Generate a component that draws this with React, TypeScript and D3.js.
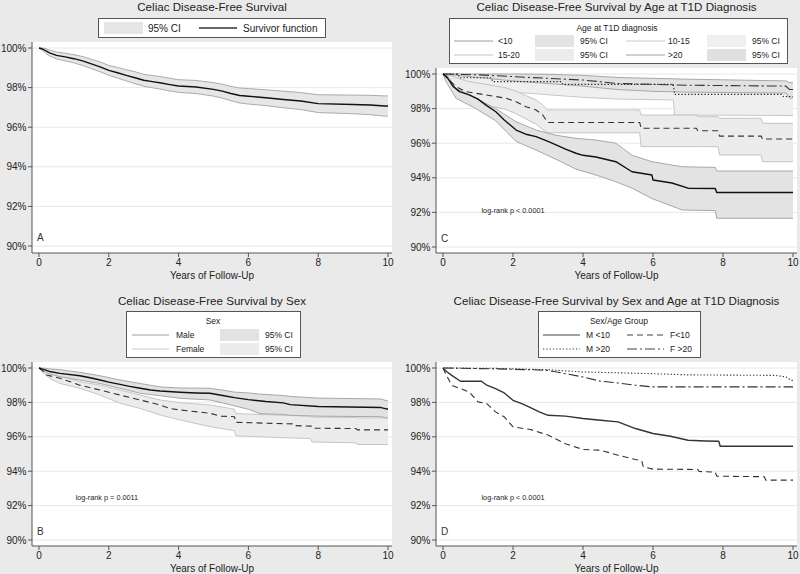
import React from "react";
import * as d3 from "d3";

type Pt = [number, number];
type Band = [number, number, number]; // [year, lower, upper]

const FONT = "'Liberation Sans', Arial, Helvetica, sans-serif";

const xTicks = [0, 2, 4, 6, 8, 10];
const yTicks = [90, 92, 94, 96, 98, 100];

// ---- A: overall ----
const survAll: Pt[] = [
  [0, 100], [0.1, 99.95], [0.2, 99.85], [0.3, 99.75], [0.5, 99.63], [0.75, 99.55], [1, 99.46],
  [1.25, 99.35], [1.5, 99.2], [1.75, 99.05], [2, 98.87], [2.25, 98.75], [2.5, 98.62], [2.75, 98.5],
  [3, 98.37], [3.25, 98.3], [3.5, 98.23], [3.75, 98.15], [4, 98.08], [4.5, 98.03], [5, 97.91],
  [5.25, 97.82], [5.5, 97.7], [5.75, 97.6], [6, 97.56], [6.5, 97.49], [7, 97.4], [7.5, 97.32],
  [8, 97.19], [9, 97.15], [9.5, 97.12], [9.9, 97.07], [10, 97.07],
];
const ciAll: Band[] = [
  [0, 100, 100], [0.1, 99.88, 100], [0.2, 99.72, 99.97], [0.3, 99.6, 99.9], [0.5, 99.45, 99.8],
  [0.75, 99.35, 99.74], [1, 99.25, 99.66], [1.25, 99.12, 99.57], [1.5, 98.96, 99.43], [1.75, 98.8, 99.3],
  [2, 98.62, 99.12], [2.25, 98.48, 99.02], [2.5, 98.34, 98.9], [2.75, 98.2, 98.8], [3, 98.07, 98.67],
  [3.25, 97.99, 98.61], [3.5, 97.92, 98.55], [3.75, 97.83, 98.47], [4, 97.76, 98.4], [4.5, 97.7, 98.36],
  [5, 97.57, 98.25], [5.25, 97.47, 98.17], [5.5, 97.34, 98.06], [5.75, 97.22, 97.98], [6, 97.17, 97.95],
  [6.5, 97.09, 97.89], [7, 96.98, 97.82], [7.5, 96.89, 97.75], [8, 96.74, 97.64], [9, 96.68, 97.62],
  [9.5, 96.63, 97.61], [9.9, 96.56, 97.58], [10, 96.56, 97.58],
];

// ---- B: by sex ----
const survMale: Pt[] = [
  [0, 100], [0.1, 99.93], [0.3, 99.8], [0.6, 99.69], [1.17, 99.55], [1.5, 99.42], [1.75, 99.3],
  [2, 99.18], [2.32, 99.05], [2.6, 98.93], [2.9, 98.82], [3.2, 98.72], [3.47, 98.66], [4.04, 98.59],
  [4.5, 98.55], [4.9, 98.53], [5.3, 98.39], [5.6, 98.28], [6, 98.16], [6.5, 98.05], [7, 97.97],
  [7.2, 97.87], [8, 97.76], [9.8, 97.7], [9.95, 97.62], [10, 97.62],
];
const ciMale: Band[] = [
  [0, 100, 100], [0.1, 99.85, 100], [0.3, 99.65, 99.95], [0.6, 99.5, 99.9], [1.17, 99.3, 99.75],
  [1.75, 99.1, 99.55], [2.32, 98.82, 99.3], [2.9, 98.53, 99.1], [3.47, 98.39, 98.9], [4.04, 98.24, 98.84],
  [4.9, 98.14, 98.82], [5.3, 97.95, 98.7], [5.6, 97.8, 98.6], [6, 97.6, 98.55], [6.33, 97.35, 98.48],
  [7, 97.3, 98.4], [7.2, 97.25, 98.35], [8, 97.2, 98.25], [9.8, 97.17, 98.2], [9.95, 97.1, 98.1],
  [10, 97.1, 98.1],
];
const survFemale: Pt[] = [
  [0, 100], [0.1, 99.85], [0.22, 99.59], [0.6, 99.4], [0.9, 99.2], [1.17, 99.0], [1.75, 98.72],
  [2.32, 98.43], [2.9, 98.14], [3.47, 97.85], [3.75, 97.65], [4.04, 97.56], [4.9, 97.37], [5.2, 97.2],
  [5.6, 97.17], [5.64, 96.84], [7.26, 96.75], [7.3, 96.65], [7.83, 96.62], [7.87, 96.5],
  [9.08, 96.48], [9.12, 96.4], [10, 96.4],
];
const ciFemale: Band[] = [
  [0, 100, 100], [0.1, 99.75, 99.95], [0.3, 99.4, 99.75], [0.6, 99.1, 99.55], [1.17, 98.82, 99.2],
  [1.75, 98.43, 99.01], [2.32, 97.95, 98.72], [2.9, 97.65, 98.43], [3.47, 97.27, 98.14], [4.04, 96.98, 97.98],
  [4.9, 96.59, 97.85], [5.47, 96.4, 97.65], [5.6, 96.35, 97.6], [5.64, 96.05, 97.35], [7, 95.95, 97.25],
  [7.78, 95.9, 97.2], [7.82, 95.7, 97.15], [9.08, 95.65, 97.12], [9.12, 95.55, 97.1], [10, 95.55, 97.1],
];

// ---- C: by age at T1D diagnosis ----
const survUnder10: Pt[] = [
  [0, 100], [0.1, 99.85], [0.2, 99.56], [0.28, 99.3], [0.47, 98.98], [0.75, 98.79], [1, 98.55],
  [1.23, 98.2], [1.51, 97.82], [1.75, 97.34], [2.09, 96.76], [2.4, 96.5], [2.66, 96.38], [3, 96.1],
  [3.23, 95.9], [3.5, 95.66], [3.8, 95.42], [4, 95.3], [4.37, 95.2], [4.94, 94.93], [5.4, 94.35],
  [5.97, 94.16], [6.0, 93.87], [6.54, 93.7], [7.0, 93.4], [7.78, 93.38], [7.82, 93.15], [10, 93.15],
];
const ciUnder10: Band[] = [
  [0, 100, 100], [0.09, 99.55, 100], [0.37, 98.6, 99.17], [0.94, 98.0, 98.6], [1.5, 97.3, 98.0],
  [2.09, 96.1, 97.24], [2.66, 95.6, 96.76], [3.2, 95.1, 96.47], [3.8, 94.5, 96.28], [4.37, 94.16, 96.18],
  [4.94, 93.77, 96.0], [5.4, 93.4, 95.3], [5.97, 92.8, 94.93], [6.83, 92.14, 94.64], [7.78, 92.1, 94.6],
  [7.82, 91.66, 94.39], [10, 91.66, 94.39],
];
const surv10to15: Pt[] = [
  [0, 100], [0.43, 100], [0.47, 99.78], [1.38, 99.78], [1.42, 99.56], [3.38, 99.56], [3.42, 99.4],
  [6.58, 99.4], [6.62, 98.82], [9.68, 98.82], [9.72, 98.7], [10, 98.7],
];
const ci10to15: Band[] = [
  [0, 100, 100], [0.45, 99.4, 100], [1.4, 99.1, 99.95], [2, 98.95, 99.95], [3, 98.8, 99.9],
  [4, 98.65, 99.8], [5, 98.55, 99.75], [6.58, 98.5, 99.7], [6.62, 97.63, 99.6], [10, 97.6, 99.5],
];
const surv15to20: Pt[] = [
  [0, 100], [0.23, 99.55], [0.37, 99.27], [0.66, 98.98], [1.23, 98.79], [1.8, 98.6], [2.09, 98.4],
  [2.37, 98.11], [2.66, 97.92], [2.85, 97.63], [2.99, 97.2], [5.62, 97.2], [5.66, 96.86], [7.24, 96.86],
  [7.28, 96.72], [7.86, 96.72], [7.9, 96.41], [9.09, 96.41], [9.13, 96.24], [10, 96.24],
];
const ci15to20: Band[] = [
  [0, 100, 100], [0.23, 99.2, 99.9], [0.37, 98.85, 99.8], [0.66, 98.5, 99.6], [1.23, 98.2, 99.4],
  [1.8, 97.95, 99.2], [2.09, 97.7, 99.0], [2.37, 97.4, 98.75], [2.66, 97.1, 98.5], [2.85, 96.8, 98.2],
  [2.99, 96.6, 97.92], [5.62, 96.6, 97.92], [5.66, 95.8, 97.63], [7.24, 95.8, 97.63], [7.28, 95.8, 97.53],
  [7.86, 95.8, 97.53], [7.9, 95.32, 97.44], [9.09, 95.32, 97.44], [9.13, 94.93, 97.15], [10, 94.93, 97.15],
];
const survOver20: Pt[] = [
  [0, 100], [1, 99.95], [2, 99.85], [3, 99.75], [4, 99.65], [5, 99.45], [6, 99.4], [7, 99.35],
  [9.8, 99.3], [9.9, 99.1], [10, 99.1],
];
const ciOver20: Band[] = [
  [0, 100, 100], [1, 99.8, 100], [2, 99.6, 100], [3, 99.45, 99.98], [4, 99.3, 99.92], [5, 99.1, 99.8],
  [6, 99.0, 99.75], [7, 98.95, 99.7], [9.8, 98.9, 99.6], [9.9, 98.6, 99.5], [10, 98.6, 99.5],
];

// ---- D: by sex and age group ----
const survMUnder10: Pt[] = [
  [0, 100], [0.1, 99.8], [0.25, 99.57], [0.5, 99.23], [1.1, 99.23], [1.25, 99.0], [1.5, 98.8],
  [1.75, 98.55], [2, 98.12], [2.25, 97.93], [2.5, 97.7], [2.75, 97.45], [3, 97.25], [3.5, 97.2],
  [4, 97.06], [4.5, 96.96], [5, 96.87], [5.5, 96.48], [6, 96.19], [6.5, 96.03], [7, 95.8], [7.5, 95.76],
  [7.88, 95.74], [7.92, 95.45], [10, 95.45],
];
const survFUnder10: Pt[] = [
  [0, 100], [0.1, 99.57], [0.25, 98.99], [0.5, 98.8], [0.75, 98.6], [1, 98.03], [1.25, 97.93],
  [1.5, 97.45], [1.75, 97.16], [2, 96.58], [2.5, 96.42], [3, 96.1], [3.5, 95.6], [4, 95.26],
  [4.5, 95.22], [5, 94.93], [5.5, 94.68], [5.68, 94.6], [5.72, 94.26], [6, 94.12], [7.28, 94.1],
  [7.32, 93.98], [7.78, 93.95], [7.82, 93.71], [9.18, 93.68], [9.22, 93.48], [10, 93.48],
];
const survMOver20: Pt[] = [
  [0, 100], [1.5, 99.98], [2, 99.95], [3, 99.9], [4, 99.77], [6, 99.67], [7, 99.6], [9.5, 99.57],
  [9.8, 99.48], [9.95, 99.28], [10, 99.28],
];
const survFOver20: Pt[] = [
  [0, 100], [1.5, 99.95], [2.5, 99.9], [3, 99.86], [3.5, 99.67], [4, 99.48], [4.5, 99.23],
  [5, 99.13], [5.5, 99.0], [6, 98.9], [10, 98.9],
];

type Frame = {
  left: number; right: number; top: number; bottom: number;
  x0: number; x1: number; yTop: number; yBot: number;
};

const frameA: Frame = { left: 32, right: 392, top: 42, bottom: 253, x0: 39, x1: 388, yTop: 48, yBot: 246 };
const frameB: Frame = { left: 32, right: 392, top: 362, bottom: 546, x0: 39, x1: 388, yTop: 368, yBot: 540 };
const frameC: Frame = { left: 436, right: 797, top: 68, bottom: 253, x0: 443, x1: 793, yTop: 74, yBot: 247 };
const frameD: Frame = { left: 436, right: 797, top: 362, bottom: 546, x0: 443, x1: 793, yTop: 368, yBot: 540 };

const DASH = "6 4";
const DOT = "1.3 2";
const DASHDOT = "10 3 2 3";

type BandSpec = { data: Band[]; fill: string; edge: string };
type CurveSpec = { data: Pt[]; stroke: string; width: number; dash?: string };

function Panel(props: {
  frame: Frame;
  title: string;
  letter: string;
  note?: { text: string; at: Pt };
  bands: BandSpec[];
  curves: CurveSpec[];
  titleY: number;
  children?: React.ReactNode;
}) {
  const { frame: f } = props;
  const x = d3.scaleLinear().domain([0, 10]).range([f.x0, f.x1]);
  const y = d3.scaleLinear().domain([90, 100]).range([f.yBot, f.yTop]);
  const line = d3.line<Pt>().x((d) => x(d[0])).y((d) => y(d[1]));
  const area = d3
    .area<Band>()
    .x((d) => x(d[0]))
    .y0((d) => y(d[1]))
    .y1((d) => y(d[2]));
  const lo = d3.line<Band>().x((d) => x(d[0])).y((d) => y(d[1]));
  const hi = d3.line<Band>().x((d) => x(d[0])).y((d) => y(d[2]));
  const cx = (f.left + f.right) / 2;

  return (
    <g>
      <rect x={f.left} y={f.top} width={f.right - f.left} height={f.bottom - f.top} fill="#ffffff" />
      {yTicks.map((v) => (
        <line key={v} x1={f.left} x2={f.right} y1={y(v)} y2={y(v)} stroke="#e8e8e8" strokeWidth={1} />
      ))}
      {props.bands.map((b, i) => (
        <g key={"b" + i}>
          <path d={area(b.data) || ""} fill={b.fill} />
          <path d={lo(b.data) || ""} fill="none" stroke={b.edge} strokeWidth={1} />
          <path d={hi(b.data) || ""} fill="none" stroke={b.edge} strokeWidth={1} />
        </g>
      ))}
      {props.curves.map((c, i) => (
        <path
          key={"c" + i}
          d={line(c.data) || ""}
          fill="none"
          stroke={c.stroke}
          strokeWidth={c.width}
          strokeDasharray={c.dash}
          strokeLinejoin="round"
        />
      ))}
      {/* axes */}
      <line x1={f.left} x2={f.left} y1={f.top} y2={f.bottom} stroke="#555" strokeWidth={1} />
      <line x1={f.left} x2={f.right} y1={f.bottom} y2={f.bottom} stroke="#555" strokeWidth={1} />
      {yTicks.map((v) => (
        <g key={"yt" + v}>
          <line x1={f.left - 4} x2={f.left} y1={y(v)} y2={y(v)} stroke="#555" />
          <text
            x={f.left - 5.5}
            y={y(v)}
            textAnchor="end"
            dominantBaseline="central"
            fontSize={10}
            fill="#222"
          >
            {`${v}%`}
          </text>
        </g>
      ))}
      {xTicks.map((v) => (
        <g key={"xt" + v}>
          <line x1={x(v)} x2={x(v)} y1={f.bottom} y2={f.bottom + 4} stroke="#555" />
          <text x={x(v)} y={f.bottom + 9.5} textAnchor="middle" dominantBaseline="central" fontSize={10} fill="#222">
            {v}
          </text>
        </g>
      ))}
      <text x={cx} y={f.bottom + 22.5} textAnchor="middle" dominantBaseline="central" fontSize={10} fill="#222">
        Years of Follow-Up
      </text>
      <text x={cx} y={props.titleY} textAnchor="middle" fontSize={11.6} fill="#222">
        {props.title}
      </text>
      <text x={f.left + 5} y={y(90) - 9} dominantBaseline="central" fontSize={10} fill="#333">
        {props.letter}
      </text>
      {props.note && (
        <text
          x={x(props.note.at[0])}
          y={y(props.note.at[1])}
          dominantBaseline="central"
          fontSize={7.3}
          fill="#222"
        >
          {props.note.text}
        </text>
      )}
      {props.children}
    </g>
  );
}

const LT = { fontSize: 8.5, fill: "#222", dominantBaseline: "central" as const };

function LegendA() {
  return (
    <g>
      <rect x={98.5} y={18.5} width={227} height={19} fill="#fff" stroke="#555" />
      <rect x={104} y={22} width={39} height={12} fill="#e6e6e6" />
      <text x={148} y={28} fontSize={10} fill="#222" dominantBaseline="central">95% CI</text>
      <line x1={199} x2={237} y1={28} y2={28} stroke="#333" strokeWidth={1.5} />
      <text x={243} y={28} fontSize={10} fill="#222" dominantBaseline="central">Survivor function</text>
    </g>
  );
}

function LegendB() {
  const rows = [
    { label: "Male", line: "#a0a0a0", fill: "#e2e2e2", y: 335 },
    { label: "Female", line: "#cccccc", fill: "#ececec", y: 349 },
  ];
  return (
    <g>
      <rect x={126.5} y={311.5} width={174} height={46} fill="#fff" stroke="#555" />
      <text x={213} y={321} textAnchor="middle" {...LT}>Sex</text>
      {rows.map((r) => (
        <g key={r.label}>
          <line x1={132} x2={169} y1={r.y} y2={r.y} stroke={r.line} strokeWidth={1} />
          <text x={176} y={r.y} {...LT}>{r.label}</text>
          <rect x={220} y={r.y - 6} width={39} height={12} fill={r.fill} />
          <text x={265} y={r.y} {...LT}>95% CI</text>
        </g>
      ))}
    </g>
  );
}

function LegendC() {
  const items = [
    { label: "<10", line: "#9c9c9c", fill: "#e3e3e3", col: 0, y: 41 },
    { label: "10-15", line: "#cacaca", fill: "#efefef", col: 1, y: 41 },
    { label: "15-20", line: "#c4c4c4", fill: "#ececec", col: 0, y: 55 },
    { label: ">20", line: "#a0a0a0", fill: "#e0e0e0", col: 1, y: 55 },
  ];
  return (
    <g>
      <rect x={449.5} y={18.5} width={338} height={45} fill="#fff" stroke="#555" />
      <text x={617} y={28} textAnchor="middle" {...LT}>Age at T1D diagnosis</text>
      {items.map((it) => {
        const ox = it.col * 172;
        return (
          <g key={it.label}>
            <line x1={454 + ox} x2={493 + ox} y1={it.y} y2={it.y} stroke={it.line} strokeWidth={1} />
            <text x={(it.col ? 668 : 498)} y={it.y} {...LT}>{it.label}</text>
            <rect x={535 + ox} y={it.y - 6} width={39} height={12} fill={it.fill} />
            <text x={580 + ox} y={it.y} {...LT}>95% CI</text>
          </g>
        );
      })}
    </g>
  );
}

function LegendD() {
  const items = [
    { label: "M <10", dash: undefined as string | undefined, col: 0, y: 335 },
    { label: "F<10", dash: DASH, col: 1, y: 335 },
    { label: "M >20", dash: DOT, col: 0, y: 349 },
    { label: "F >20", dash: DASHDOT, col: 1, y: 349 },
  ];
  return (
    <g>
      <rect x={538.5} y={311.5} width={162} height={46} fill="#fff" stroke="#555" />
      <text x={619} y={321} textAnchor="middle" {...LT}>Sex/Age Group</text>
      {items.map((it) => {
        const ox = it.col * 84;
        return (
          <g key={it.label}>
            <line
              x1={543 + ox}
              x2={580 + ox}
              y1={it.y}
              y2={it.y}
              stroke="#444"
              strokeWidth={1.1}
              strokeDasharray={it.dash}
            />
            <text x={it.col ? 670 : 586} y={it.y} {...LT}>{it.label}</text>
          </g>
        );
      })}
    </g>
  );
}

export default function App() {
  return (
    <svg
      width={800}
      height={574}
      viewBox="0 0 800 574"
      style={{ position: "absolute", left: 0, top: 0, fontFamily: FONT }}
    >
      <rect x={0} y={0} width={800} height={574} fill="#eaeaea" />

      <Panel
        frame={frameA}
        title="Celiac Disease-Free Survival"
        titleY={10.5}
        letter="A"
        bands={[{ data: ciAll, fill: "#e6e6e6", edge: "#ababab" }]}
        curves={[{ data: survAll, stroke: "#111", width: 1.4 }]}
      >
        <LegendA />
      </Panel>

      <Panel
        frame={frameC}
        title="Celiac Disease-Free Survival by Age at T1D Diagnosis"
        titleY={10.5}
        letter="C"
        note={{ text: "log-rank p < 0.0001", at: [1.1, 92.1] }}
        bands={[
          { data: ci10to15, fill: "#efefef", edge: "#c8c8c8" },
          { data: ciOver20, fill: "#e2e2e2", edge: "#a8a8a8" },
          { data: ci15to20, fill: "#ececec", edge: "#c4c4c4" },
          { data: ciUnder10, fill: "#e3e3e3", edge: "#a8a8a8" },
        ]}
        curves={[
          { data: surv10to15, stroke: "#222", width: 1.1, dash: DOT },
          { data: survOver20, stroke: "#333", width: 1.1, dash: DASHDOT },
          { data: surv15to20, stroke: "#333", width: 1.1, dash: DASH },
          { data: survUnder10, stroke: "#111", width: 1.4 },
        ]}
      >
        <LegendC />
      </Panel>

      <Panel
        frame={frameB}
        title="Celiac Disease-Free Survival by Sex"
        titleY={304.5}
        letter="B"
        note={{ text: "log-rank p = 0.0011", at: [1.05, 92.45] }}
        bands={[
          { data: ciFemale, fill: "#ececec", edge: "#c6c6c6" },
          { data: ciMale, fill: "#e2e2e2", edge: "#a8a8a8" },
        ]}
        curves={[
          { data: survFemale, stroke: "#333", width: 1.1, dash: DASH },
          { data: survMale, stroke: "#111", width: 1.4 },
        ]}
      >
        <LegendB />
      </Panel>

      <Panel
        frame={frameD}
        title="Celiac Disease-Free Survival by Sex and Age at T1D Diagnosis"
        titleY={304.5}
        letter="D"
        note={{ text: "log-rank p < 0.0001", at: [1.1, 92.45] }}
        bands={[]}
        curves={[
          { data: survMOver20, stroke: "#333", width: 1.1, dash: DOT },
          { data: survFOver20, stroke: "#333", width: 1.1, dash: DASHDOT },
          { data: survFUnder10, stroke: "#333", width: 1.1, dash: DASH },
          { data: survMUnder10, stroke: "#333", width: 1.4 },
        ]}
      >
        <LegendD />
      </Panel>
    </svg>
  );
}
